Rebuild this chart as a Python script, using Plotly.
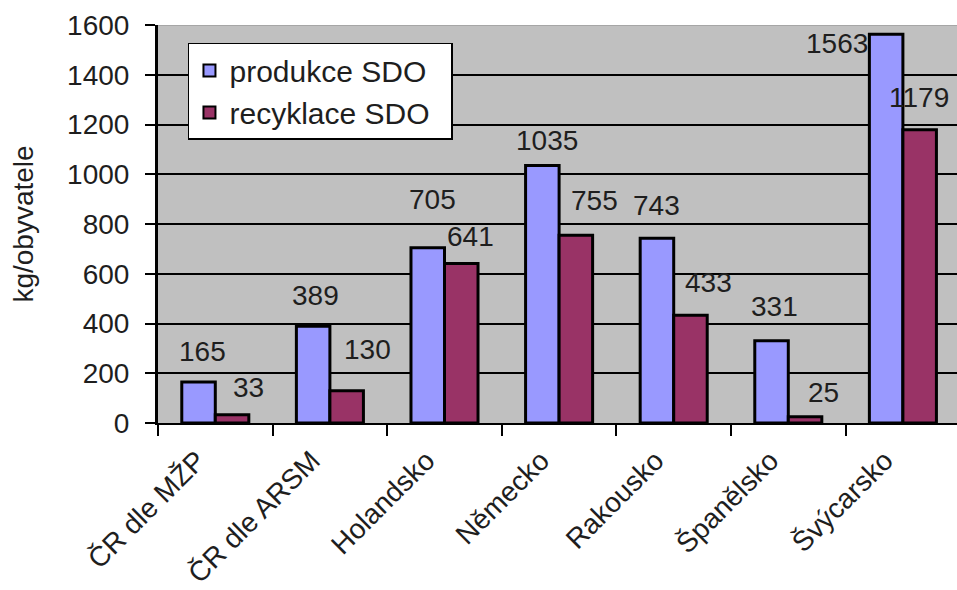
import plotly.graph_objects as go

# ---- data ----
categories = ["ČR dle MŽP", "ČR dle ARSM", "Holandsko", "Německo",
              "Rakousko", "Španělsko", "Švýcarsko"]
produkce = [165, 389, 705, 1035, 743, 331, 1563]
recyklace = [33, 130, 641, 755, 433, 25, 1179]
series_names = ["produkce SDO", "recyklace SDO"]
y_ticks = [0, 200, 400, 600, 800, 1000, 1200, 1400, 1600]

# ---- label placement (pixel nudges, like the hand-placed Excel labels) ----
blue_dx = [4, 2, 5, 5, 0, 3, -49]
blue_dy = [30, 31, 48, 25, 33, 34, -9]
red_dx = [16, 21, 9, 19, 18, 18, -1]
red_dy = [27, 41, 27, 35, 33, 24, 32]

BLUE = "#9999FF"
RED = "#993366"
FONT = "Liberation Sans, Arial, sans-serif"
FS = 28
TXT = "#1e1e1e"

fig = go.Figure()
fig.add_trace(go.Bar(x=categories, y=produkce, name=series_names[0],
                     marker=dict(color=BLUE, line=dict(color="black", width=3)),
                     showlegend=False))
fig.add_trace(go.Bar(x=categories, y=recyklace, name=series_names[1],
                     marker=dict(color=RED, line=dict(color="black", width=3)),
                     showlegend=False))
# legend proxies (square swatches)
for nm, col in zip(series_names, [BLUE, RED]):
    fig.add_trace(go.Scatter(x=[None], y=[None], mode="markers",
                             name=nm + "\u00a0\u00a0",
                             marker=dict(symbol="square", size=18, color=col,
                                         line=dict(color="black", width=2.5))))

plot_left, plot_right = 158, 957
cat_px = 114.6
x_hi = -0.5 + (plot_right - plot_left) / cat_px
bar_off = 16.75

ann = []
for i, c in enumerate(categories):
    ann.append(dict(x=c, y=produkce[i], text=str(produkce[i]), showarrow=False,
                    xshift=-bar_off + blue_dx[i], yshift=blue_dy[i],
                    font=dict(family=FONT, size=FS, color=TXT)))
    ann.append(dict(x=c, y=recyklace[i], text=str(recyklace[i]), showarrow=False,
                    xshift=bar_off + red_dx[i], yshift=red_dy[i],
                    font=dict(family=FONT, size=FS, color=TXT)))

fig.update_layout(
    width=957, height=590,
    margin=dict(l=plot_left, r=0, t=25, b=167, pad=0),
    paper_bgcolor="white", plot_bgcolor="#C0C0C0",
    barmode="group", bargap=0.415, bargroupgap=0,
    font=dict(family=FONT, size=FS, color=TXT),
    annotations=ann,
    shapes=[dict(type="line", xref="paper", yref="y", x0=0, x1=1,
                 y0=1600, y1=1600, layer="above",
                 line=dict(color="#a6a6a6", width=2))],
    legend=dict(x=0.0375, y=0.955, xanchor="left", yanchor="top",
                bgcolor="white", bordercolor="black", borderwidth=1.5,
                font=dict(family=FONT, size=30, color=TXT),
                itemsizing="constant", tracegroupgap=0),
    xaxis=dict(range=[-0.5, x_hi], showline=True, linecolor="black", linewidth=2,
               ticks="outside", tickson="boundaries", ticklen=11, tickwidth=2,
               tickcolor="black", tickangle=-45, showgrid=False,
               ticklabelstandoff=8, ticklabelshift=-18,
               tickfont=dict(family=FONT, size=FS, color=TXT)),
    yaxis=dict(range=[0, 1600], tickvals=y_ticks, showline=True,
               linecolor="black", linewidth=3, ticks="outside", ticklen=10,
               tickwidth=2, tickcolor="black", showgrid=True,
               gridcolor="black", gridwidth=1.5, zeroline=False,
               ticklabelstandoff=10,
               tickfont=dict(family=FONT, size=FS, color=TXT),
               title=dict(text="kg/obyvatele", standoff=26,
                          font=dict(family=FONT, size=FS, color=TXT))),
)

fig.write_html("out.html")
